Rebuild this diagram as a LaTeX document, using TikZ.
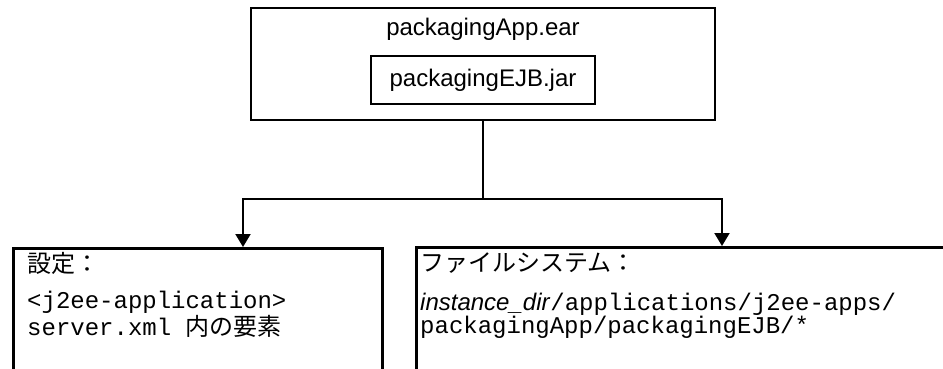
\documentclass[tikz,border=0pt]{standalone}
\usepackage{fontspec}
\setmainfont{Liberation Sans}
\setsansfont{Liberation Sans}
\setmonofont{Liberation Mono}
\newfontfamily\jp{Noto Sans CJK JP}
\usetikzlibrary{arrows.meta}
\begin{document}
\begin{tikzpicture}[x=1pt,y=1pt,
  box/.style={draw,line width=2.6pt,rectangle,inner sep=0pt},
  conn/.style={line width=2pt},
  arr/.style={conn,-{Triangle[width=15pt,length=13pt]}},
  txt/.style={anchor=base west,inner sep=0pt,align=left,font=\fontsize{24}{23}\selectfont},
  ctxt/.style={inner sep=0pt,font=\fontsize{24}{23}\selectfont}]
\useasboundingbox (0,0) rectangle (943,-369);
\clip (0,0) rectangle (943,-369);
% top box
\node[box,minimum width=464pt,minimum height=112pt] (ear) at (483,-64) {};
\node[ctxt,anchor=base] (eartitle) at (483,-36) {packagingApp.ear};
\node[box,minimum width=224pt,minimum height=48pt,font=\fontsize{24}{23}\selectfont] (ejb) at (483,-80) {packagingEJB.jar};
% bottom boxes (extend past the picture edge)
\node[box,anchor=north west,minimum width=369pt,minimum height=160pt] (cfg) at (12,-247) {};
\node[box,anchor=north west,minimum width=600pt,minimum height=160pt] (fs) at (415,-246) {};
% connectors
\coordinate (split) at (483,-199);
\coordinate (la) at (243,-247);
\coordinate (ra) at (722,-246);
\draw[conn] (ear.south) -- (split);
\draw[arr] (split) -| (la);
\draw[arr] (split) -| (ra);
% texts
\node[txt] (cfgt) at (27,-272) {\jp 設定：};
\node[txt] (cfgb) at (27,-335) {\ttfamily <j2ee-application>\\\ttfamily server.xml {\jp 内の要素}};
\node[txt] (fst) at (420,-271) {\jp ファイルシステム：};
\node[txt] (fsb) at (420,-333) {\textit{instance\_dir}\ttfamily /applications/j2ee-apps/\\\ttfamily packagingApp/packagingEJB/*};
\end{tikzpicture}
\end{document}
